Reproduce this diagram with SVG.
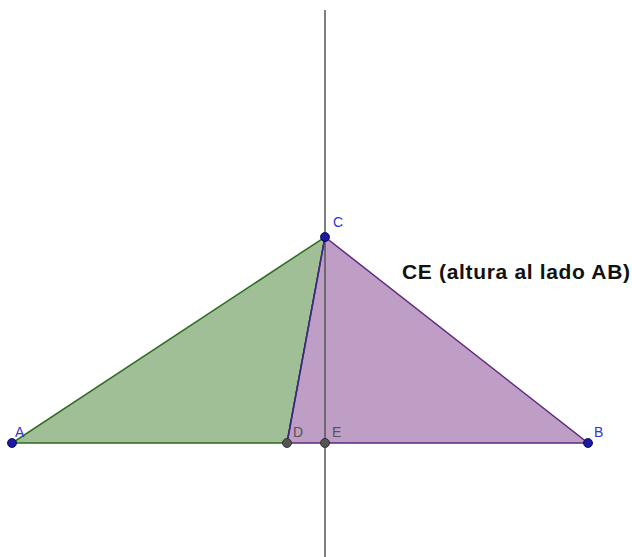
<svg xmlns="http://www.w3.org/2000/svg" width="632" height="557" viewBox="0 0 632 557">
<style>
.lbl{font-family:"Liberation Sans",Arial,sans-serif;font-size:14px;fill:#3333cc}
.pt{fill:#1a1aa6;stroke:#000033;stroke-width:0.8}
.gpt{fill:#555;stroke:#222;stroke-width:0.8}
</style>
<rect width="632" height="557" fill="#fff"/>
<g id="triangleADC">
<polygon points="12,443 287,443 325,237" fill="#a0bf96" stroke="#2d6b1e" stroke-width="1.5"/>
</g>
<g id="triangleDBC">
<polygon points="287,443 588,443 325,237" fill="#bf9ec6" stroke="#5c2a80" stroke-width="1.5"/>
</g>
<g id="connectors">
<line x1="325" y1="10" x2="325" y2="557" stroke="#555" stroke-width="1.5"/>
<line x1="287" y1="443" x2="325" y2="237" stroke="#3a2a80" stroke-width="1.5"/>
</g>
<g id="A"><circle class="pt" cx="12" cy="443" r="4.5"/><text class="lbl" x="15" y="437">A</text></g>
<g id="B"><circle class="pt" cx="588" cy="443" r="4.5"/><text class="lbl" x="594" y="437">B</text></g>
<g id="C"><circle class="pt" cx="325" cy="237" r="4.5"/><text class="lbl" x="333" y="227">C</text></g>
<g id="D"><circle class="gpt" cx="287" cy="443" r="4.5"/><text class="lbl" x="293" y="437" style="fill:#555">D</text></g>
<g id="E"><circle class="gpt" cx="325" cy="443" r="4.5"/><text class="lbl" x="332" y="437" style="fill:#555">E</text></g>
<g id="label"><text x="402" y="279" font-family="Liberation Sans,Arial,sans-serif" font-size="21" font-weight="bold" fill="#111" textLength="228" lengthAdjust="spacing">CE (altura al lado AB)</text></g>
</svg>
